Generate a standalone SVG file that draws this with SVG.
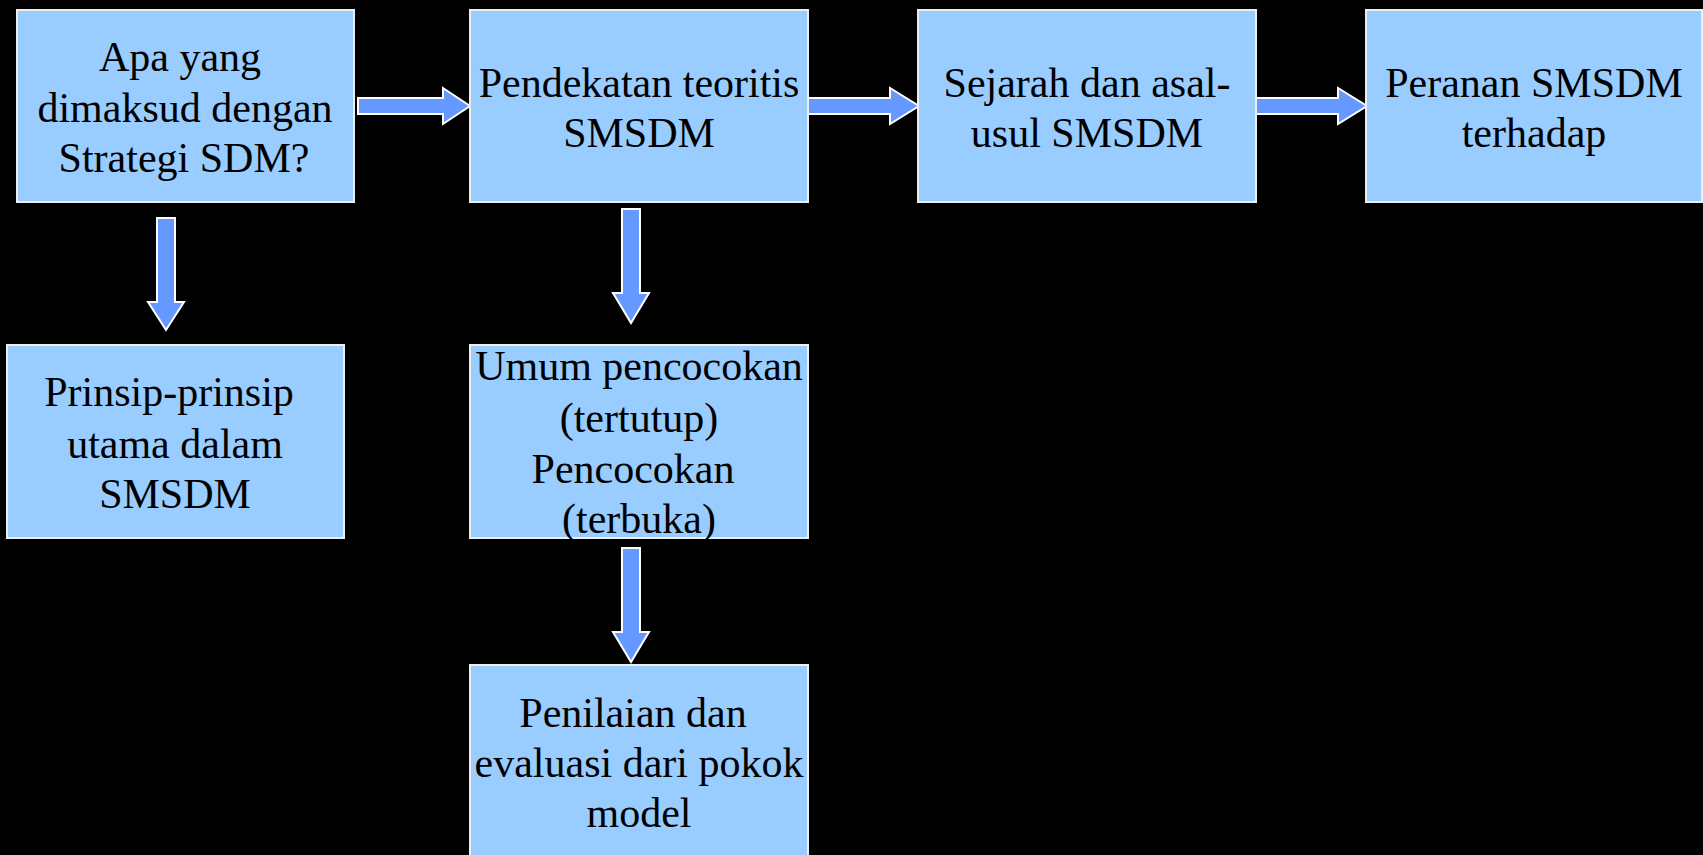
<svg xmlns="http://www.w3.org/2000/svg" width="1703" height="855" viewBox="0 0 1703 855">
<style>
.box{fill:#99CCFF;stroke:#EEEEEE;stroke-width:2}
.arr{fill:#6699FF;stroke:#FFFFFF;stroke-width:2;stroke-linejoin:miter}
.t{font-family:"Liberation Serif","Times New Roman",serif;font-size:42px;fill:#000000;text-anchor:middle}
</style>
<rect x="0" y="0" width="1703" height="855" fill="#000000"/>
<g id="connectors">
<path class="arr" d="M358,98 H443 V88 L470,106 L443,124 V114 H358 Z"/>
<path class="arr" d="M808,98 H890 V88 L919,106 L890,124 V114 H808 Z"/>
<path class="arr" d="M1256,98 H1338 V88 L1367,106 L1338,124 V114 H1256 Z"/>
<path class="arr" d="M157,218 V302 H148 L166,330 L184,302 H175 V218 Z"/>
<path class="arr" d="M622,209 V293 H613 L631,323 L649,293 H640 V209 Z"/>
<path class="arr" d="M622,548 V632 H613 L631,662 L649,632 H640 V548 Z"/>
</g>
<g id="n1">
<rect class="box" x="17" y="10" width="337" height="192"/>
<text class="t"><tspan x="180" y="71">Apa yang</tspan><tspan x="185" y="122">dimaksud dengan</tspan><tspan x="184" y="172">Strategi SDM?</tspan></text>
</g>
<g id="n2">
<rect class="box" x="470" y="10" width="338" height="192"/>
<text class="t"><tspan x="639" y="97">Pendekatan teoritis</tspan><tspan x="639" y="147">SMSDM</tspan></text>
</g>
<g id="n3">
<rect class="box" x="918" y="10" width="338" height="192"/>
<text class="t"><tspan x="1087" y="97">Sejarah dan asal-</tspan><tspan x="1087" y="147">usul SMSDM</tspan></text>
</g>
<g id="n4">
<rect class="box" x="1366" y="10" width="336" height="192"/>
<text class="t"><tspan x="1534" y="97">Peranan SMSDM</tspan><tspan x="1534" y="147">terhadap</tspan></text>
</g>
<g id="n5">
<rect class="box" x="7" y="345" width="337" height="193"/>
<text class="t"><tspan x="169" y="406">Prinsip-prinsip</tspan><tspan x="175" y="458">utama dalam</tspan><tspan x="175" y="508">SMSDM</tspan></text>
</g>
<g id="n6">
<rect class="box" x="470" y="345" width="338" height="193"/>
<text class="t"><tspan x="639" y="380">Umum pencocokan</tspan><tspan x="639" y="432">(tertutup)</tspan><tspan x="633" y="483">Pencocokan</tspan><tspan x="639" y="533">(terbuka)</tspan></text>
</g>
<g id="n7">
<rect class="box" x="470" y="665" width="338" height="205"/>
<text class="t"><tspan x="633" y="727">Penilaian dan</tspan><tspan x="639" y="777">evaluasi dari pokok</tspan><tspan x="639" y="827">model</tspan></text>
</g>
</svg>
